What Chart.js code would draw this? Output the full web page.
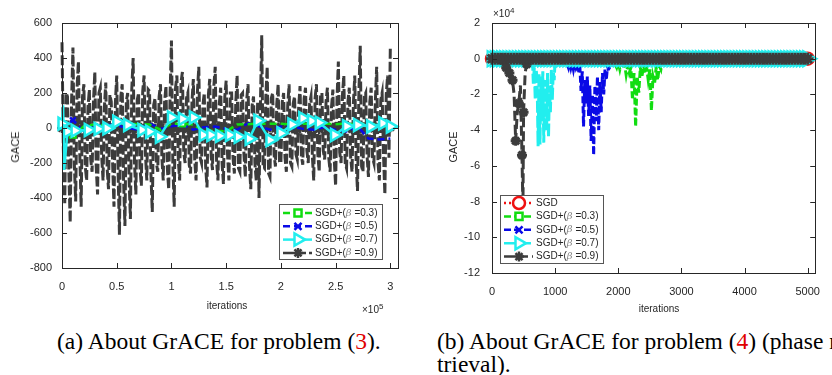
<!DOCTYPE html>
<html>
<head>
<meta charset="utf-8">
<script src="https://cdn.jsdelivr.net/npm/chart.js@4/dist/chart.umd.min.js"></script>
<style>
  body { margin:0; width:832px; height:375px; background:#fff; position:relative; overflow:hidden;
         font-family:"Liberation Sans", Arial, sans-serif; }
  canvas { position:absolute; top:0; }
  #cA { left:0; }
  #cB { left:420px; }
  .lbl { position:absolute; color:#262626; font-size:10px; white-space:nowrap; transform:translate(-50%,-50%); }
  .ylab { font-size:11px; transform:translate(-50%,-50%) rotate(-90deg); }
  .mult { position:absolute; color:#262626; font-size:10px; white-space:nowrap; }
  .mult sup { font-size:8px; }
  .cap { position:absolute; font-family:"Liberation Serif","Times New Roman",serif; font-size:23.5px;
         color:#000; white-space:nowrap; line-height:23px; }
  .ref { color:#e00000; }
</style>
</head>
<body>
<canvas id="cA" width="410" height="320"></canvas>
<canvas id="cB" width="412" height="320"></canvas>

<div class="lbl ylab" style="left:15px;top:147px">GACE</div>
<div class="lbl" style="left:227px;top:305px">iterations</div>
<div class="mult" style="left:362px;top:302px">×10<sup>5</sup></div>

<div class="lbl ylab" style="left:453px;top:147px">GACE</div>
<div class="lbl" style="left:659px;top:308px">iterations</div>
<div class="mult" style="left:493px;top:6px">×10<sup>4</sup></div>

<div class="cap" style="left:57px;top:330px">(a) About GrACE for problem (<span class="ref">3</span>).</div>
<div class="cap" style="left:437px;top:330px">(b) About GrACE for problem (<span class="ref">4</span>) (phase re-<br>trieval).</div>

<script>
// ---------- panel (a): x in units of 1e5 iterations ----------
const stepA = 0.0125;   // spacing of the beta=0.9 trace
const gace09A = [
  490,-120, -430,200, 180,-250, -540,150, 460,-200, -420,230, 380,-150, -450,180, 250,-220, -300,120,
  220,-180, -250,150, 320,-220, -380,200, 230,-160, -300,120, 260,-230, -350,190, 150,-200, -450,140,
  300,-250, -610,180, 250,-300, -560,150, 200,-280, -520,220, 400,-200, -380,160, 200,-230, -330,210,
  300,-150, -300,220, 210,-260, -480,130, 170,-200, -250,180, 250,-170, -300,150, 240,-230, -350,190,
  500,-200, -450,230, 300,-180, -300,260, 320,-140, -200,170, 200,-210, -260,150, 280,-180, -300,210,
  350,-170, -200,130, 200,-220, -340,190, 280,-160, -240,240, 350,-190, -300,140, 230,-200, -320,180,
  270,-150, -300,200, 200,-170, -260,140, 300,-230, -250,190, 200,-150, -280,160, 250,-210, -350,130,
  180,-200, -300,150, -400,120, 530,-220, -230,180, 350,-260, -280,170, 200,-150, -220,140, 250,-190,
  -200,150, 200,-170, -250,130, 250,-200, -220,140, 180,-150, -180,120, 240,-160, -210,170, 230,-130,
  -200,140, 180,-160, -300,170, 250,-150, -250,190, 200,-130, -180,150, 230,-170, -250,120, 220,-180,
  -330,160, 380,-140, -200,190, 300,-200, -230,150, 230,-170, -250,140, 300,-190, -360,200, 470,-220,
  -250,180, 200,-160, -280,150, 230,-170, -200,140, 350,-200, -300,160, 200,-150, -380,190, 300,-170,
  470
];
// asterisk markers of the beta=0.9 trace (every 0.05)
const starStepA = 0.05;
const star09A = [
  0, -8, 6, -4, 8, -6, 4, -8, 6, -4,
  8, -6, 4, -8, 6, -4, 8, -6, 4, -8,
  6, -4, 8, -6, 4, -8, 6, -4, 8, -6,
  4, -8, 6, -4, 8, -6, 4, -8, 6, -4,
  8, -6, 4, -8, 6, -4, 8, -6, 4, -8,
  6, -4, 8, -6, 4, -8, 6, -4, 8, -6, 4
];
const tenthsA = [0,0.1,0.2,0.3,0.4,0.5,0.6,0.7,0.8,0.9,1.0,1.1,1.2,1.3,1.4,1.5,1.6,1.7,1.8,1.9,
                 2.0,2.1,2.2,2.3,2.4,2.5,2.6,2.7,2.8,2.9,3.0];
const gace03A = [0,-40,10,20,15,20,25,22,20,-10,25,25,20,-20,-15,-20,20,22,25,25,25,20,25,25,25,22,25,20,25,18,5];
const gace05A = [0,45,-20,10,20,15,0,-10,27,-5,10,20,-10,5,8,-5,-10,27,10,-10,8,10,-5,-10,5,-10,-20,10,-60,-65,-60];
const cyanXA = [0,0.01,0.02,0.05,0.12,0.24,0.33,0.41,0.50,0.60,0.73,0.80,0.89,1.00,1.10,1.20,1.29,1.36,
                1.44,1.53,1.61,1.71,1.79,1.90,2.00,2.10,2.20,2.28,2.35,2.49,2.60,2.70,2.82,2.93,3.00];
const gace07A = [25,130,-240,-20,-15,-11,-5,-2,36,17,-11,-21,-50,60,52,60,-40,-40,
                 -45,-40,-50,-62,42,-69,-30,20,56,40,30,-40,10,17,8,27,8];
const xTicksA = [0,0.5,1,1.5,2,2.5,3];
const yTicksA = [-800,-600,-400,-200,0,200,400,600];

// ---------- panel (b): x in iterations, y in units of 1e4 ----------
// level of every trace away from its dip (sampled every 50 iterations)
const stepB = 50;
const flatB = [
  0,0,0,0,0,0,0,0,0,0, 0,0,0,0,0,0,0,0,0,0, 0,0,0,0,0,0,0,0,0,0, 0,0,0,0,0,0,0,0,0,0,
  0,0,0,0,0,0,0,0,0,0, 0,0,0,0,0,0,0,0,0,0, 0,0,0,0,0,0,0,0,0,0, 0,0,0,0,0,0,0,0,0,0,
  0,0,0,0,0,0,0,0,0,0, 0,0,0,0,0,0,0,0,0,0, 0
];
// dips of the SGD+ traces
const dip09X = [150,175,200,225,250,275,300,325,350,375,400,425,450,475,490,500,525,550,575,600];
const dip09Y = [0,-0.1,-0.3,-0.5,-0.8,-0.8,-0.9,-1.2,-2.0,-4.6,-3.0,-2.5,-1.5,-5.4,-8.5,-3.0,-0.8,-0.3,-0.1,0];
const dip07X = [640,655,670,685,700,715,730,745,760,775,790,805,820,835,850,865,880,895,910,925,940,955,970,985,1000];
const dip07Y = [0,-1.4,-0.5,-2.3,-0.6,-1.2,-4.9,-0.8,-4.8,-1.0,-3.5,-0.7,-4.7,-1.2,-2.5,-4.0,-0.8,-4.4,-1.5,-3.0,
                -0.6,-2.3,-0.7,-1.2,0];
const dip05X = [1150,1170,1190,1210,1230,1250,1270,1290,1310,1330,1350,1370,1390,1410,1430,1450,1470,1490,1510,1530,
                1550,1570,1590,1610,1630,1650,1670,1690,1710,1730,1750,1770,1790,1810,1830,1850,1870,1890,1910];
const dip05Y = [-0.4,0,-0.3,-0.5,-0.1,-0.5,-0.2,-0.6,-0.2,-0.5,-0.3,-0.8,-0.3,-1.8,-0.7,-3.8,-1.2,-2.5,-1.0,-3.2,
                -1.5,-4.6,-2.0,-5.4,-1.5,-3.5,-1.0,-4.0,-1.3,-3.0,-0.8,-2.0,-0.6,-1.2,-0.4,-0.7,-0.3,-0.5,0];
const dip03X = [1950,1975,2000,2025,2050,2075,2100,2125,2150,2175,2200,2225,2250,2275,2300,2325,2350,2375,2400,2425,
                2450,2475,2500,2525,2550,2575,2600,2625,2650,2675,2700];
const dip03Y = [-0.3,-0.5,-0.2,-0.6,-0.2,-0.5,-0.3,-0.9,-0.4,-0.8,-0.5,-2.3,-0.8,-3.8,-1.0,-1.9,-0.5,-1.0,-0.4,-0.8,
                -0.5,-1.2,-0.6,-2.9,-1.0,-1.4,-0.5,-1.2,-0.4,-0.6,0];
const xTicksB = [0,1000,2000,3000,4000,5000];
const yTicksB = [-12,-10,-8,-6,-4,-2,0,2];

// ---------- helpers ----------
const INK = '#262626';
const RED = '#ee1111', GREEN = '#11dd11', BLUE = '#0a0ae6', CYAN = '#22eeee', DARK = '#3c3c3c';

const pts = (xs, ys) => ys.map((y, i) => ({ x: xs[i], y }));
const stepped = (step, ys) => ys.map((y, i) => ({ x: +(i * step).toFixed(4), y }));

Chart.defaults.font.family = '"Liberation Sans", Arial, sans-serif';
Chart.defaults.font.size = 11;
Chart.defaults.color = INK;

const framePlugin = {
  id: 'frame',
  afterDatasetsDraw(chart) {
    const { ctx, chartArea: a, scales } = chart;
    ctx.save();
    ctx.strokeStyle = INK;
    ctx.lineWidth = 1;
    ctx.setLineDash([]);
    ctx.strokeRect(Math.round(a.left) + 0.5, Math.round(a.top) + 0.5,
                   Math.round(a.right - a.left), Math.round(a.bottom - a.top));
    ctx.beginPath();
    scales.x.ticks.forEach(t => {
      const p = Math.round(scales.x.getPixelForValue(t.value)) + 0.5;
      ctx.moveTo(p, a.bottom); ctx.lineTo(p, a.bottom - 5);
      ctx.moveTo(p, a.top); ctx.lineTo(p, a.top + 5);
    });
    scales.y.ticks.forEach(t => {
      const p = Math.round(scales.y.getPixelForValue(t.value)) + 0.5;
      ctx.moveTo(a.left, p); ctx.lineTo(a.left + 5, p);
      ctx.moveTo(a.right, p); ctx.lineTo(a.right - 5, p);
    });
    ctx.stroke();
    ctx.restore();
  }
};

const legendPlugin = {
  id: 'boxLegend',
  afterDraw(chart, args, opts) {
    const { ctx } = chart;
    ctx.save();
    ctx.fillStyle = '#fff';
    ctx.fillRect(opts.x, opts.y, opts.w, opts.h);
    ctx.strokeStyle = '#555';
    ctx.lineWidth = 1;
    ctx.strokeRect(opts.x + 0.5, opts.y + 0.5, opts.w, opts.h);
    opts.rows.forEach((di, r) => {
      const ds = chart.data.datasets[di];
      const y = opts.y0 + r * opts.dy;
      ctx.strokeStyle = ds.borderColor;
      ctx.lineWidth = 2.5;
      ctx.setLineDash(ds.borderDash || []);
      ctx.beginPath();
      ctx.moveTo(opts.x + 4, y); ctx.lineTo(opts.x + 33, y);
      ctx.stroke();
      ctx.setLineDash([]);
      if (Chart.helpers && Chart.helpers.drawPoint) {
        ctx.fillStyle = '#fff';
        ctx.strokeStyle = ds.borderColor;
        ctx.lineWidth = 2.5;
        Chart.helpers.drawPoint(ctx, { pointStyle: ds.mk, radius: ds.mkR, rotation: ds.mkRot || 0, borderWidth: 2.5 },
                                opts.x + 19, y);
      }
      // text: SGD+(β =0.3)
      let tx = opts.x + 36;
      ctx.textBaseline = 'middle';
      ctx.fillStyle = INK;
      ctx.font = '10px "Liberation Sans", Arial, sans-serif';
      const parts = ds.legendParts;
      ctx.fillText(parts[0], tx, y);
      tx += ctx.measureText(parts[0]).width;
      if (parts.length > 1) {
        ctx.font = 'italic 10px "DejaVu Serif", serif';
        ctx.fillStyle = '#888';
        ctx.fillText('\u03B2', tx, y);
        tx += ctx.measureText('\u03B2').width;
        ctx.font = '10px "Liberation Sans", Arial, sans-serif';
        ctx.fillStyle = INK;
        ctx.fillText(parts[1], tx, y);
      }
    });
    ctx.restore();
  }
};

function axes(xMin, xMax, yMin, yMax, xTicks, yTicks, yW, xH, xPad, yPad) {
  return {
    x: {
      type: 'linear', min: xMin, max: xMax,
      grid: { display: false, drawTicks: false }, border: { display: false },
      afterBuildTicks: s => { s.ticks = xTicks.map(v => ({ value: v })); },
      afterFit: s => { s.height = xH; },
      ticks: { autoSkip: false, maxRotation: 0, padding: xPad, color: INK, callback: v => String(v) }
    },
    y: {
      type: 'linear', min: yMin, max: yMax,
      grid: { display: false, drawTicks: false }, border: { display: false },
      afterBuildTicks: s => { s.ticks = yTicks.map(v => ({ value: v })); },
      afterFit: s => { s.width = yW; },
      ticks: { autoSkip: false, padding: yPad, color: INK, callback: v => String(v) }
    }
  };
}

// ---------- chart (a) ----------
new Chart(document.getElementById('cA'), {
  type: 'line',
  data: {
    datasets: [
      { data: pts(cyanXA, gace07A), borderColor: CYAN, borderWidth: 2.5, borderDash: [],
        pointStyle: 'triangle', pointRotation: 90, pointBackgroundColor: '#fff', pointBorderColor: CYAN,
        pointBorderWidth: 2.5, pointRadius: c => Math.abs(c.parsed.y) > 100 ? 0 : 7, order: 0,
        mk: 'triangle', mkR: 7, mkRot: 90, legendParts: ['SGD+(', ' =0.7)'] },
      { data: pts(tenthsA, gace03A), borderColor: GREEN, borderWidth: 2.5, borderDash: [7, 4],
        pointStyle: 'rect', pointBackgroundColor: '#fff', pointBorderColor: GREEN, pointBorderWidth: 2,
        pointRadius: c => c.dataIndex % 10 === 1 ? 4 : 0, order: 1,
        mk: 'rect', mkR: 5, legendParts: ['SGD+(', ' =0.3)'] },
      { data: pts(tenthsA, gace05A), borderColor: BLUE, borderWidth: 2.5, borderDash: [7, 4],
        pointStyle: 'crossRot', pointBorderColor: BLUE, pointBorderWidth: 2.5,
        pointRadius: c => c.dataIndex % 10 === 1 ? 4 : 0, order: 2,
        mk: 'crossRot', mkR: 5, legendParts: ['SGD+(', ' =0.5)'] },
      { data: stepped(starStepA, star09A), showLine: false, borderColor: DARK,
        pointStyle: 'star', pointBorderColor: DARK, pointBorderWidth: 2.5, pointRadius: 5, order: 3 },
      { data: stepped(stepA, gace09A), borderColor: DARK, borderWidth: 3, borderDash: [10, 3],
        pointRadius: 0, order: 4, mk: 'star', mkR: 5, legendParts: ['SGD+(', ' =0.9)'] }
    ]
  },
  options: {
    responsive: false, animation: false,
    layout: { autoPadding: false, padding: { left: 0, right: 12, top: 23, bottom: 0 } },
    elements: { line: { tension: 0, fill: false } },
    datasets: { line: { clip: false } },
    scales: axes(0, 3.07, -800, 600, xTicksA, yTicksA, 62, 52, 12, 10),
    plugins: {
      legend: { display: false }, tooltip: { enabled: false },
      boxLegend: { x: 279, y: 204, w: 103, h: 55, y0: 213, dy: 13.3, rows: [1, 2, 0, 4] }
    }
  },
  plugins: [framePlugin, legendPlugin]
});

// ---------- chart (b) ----------
const bandB = stepped(stepB, flatB);
new Chart(document.getElementById('cB'), {
  type: 'line',
  data: {
    datasets: [
      // 0: beta 0.9 band
      { data: bandB, borderColor: DARK, borderWidth: 3, borderDash: [10, 4],
        pointStyle: 'star', pointBorderColor: DARK, pointBorderWidth: 3, pointRadius: 6, order: 0,
        mk: 'star', mkR: 5, legendParts: ['SGD+(', ' =0.9)'] },
      // 1: beta 0.9 dip
      { data: pts(dip09X, dip09Y), borderColor: DARK, borderWidth: 3, borderDash: [10, 4],
        pointStyle: 'star', pointBorderColor: DARK, pointBorderWidth: 3,
        pointRadius: c => (c.dataIndex % 2 === 1 && c.parsed.y > -8) ? 5 : 0, order: 1 },
      // 2: beta 0.7 band
      { data: bandB, borderColor: CYAN, borderWidth: 3, borderDash: [12, 3],
        pointStyle: 'triangle', pointRotation: 90, pointBackgroundColor: '#fff', pointBorderColor: CYAN,
        pointBorderWidth: 2, pointRadius: 9, order: 2,
        mk: 'triangle', mkR: 7, mkRot: 90, legendParts: ['SGD+(', ' =0.7)'] },
      // 3: beta 0.7 dip
      { data: pts(dip07X, dip07Y), borderColor: CYAN, borderWidth: 3, borderDash: [12, 3],
        pointRadius: 0, order: 3 },
      // 4: beta 0.5 band
      { data: bandB, borderColor: BLUE, borderWidth: 3, borderDash: [7, 3],
        pointStyle: 'crossRot', pointBorderColor: BLUE, pointBorderWidth: 2.5, pointRadius: 4, order: 4,
        mk: 'crossRot', mkR: 5, legendParts: ['SGD+(', ' =0.5)'] },
      // 5: beta 0.5 dip
      { data: pts(dip05X, dip05Y), borderColor: BLUE, borderWidth: 3, borderDash: [7, 3],
        pointRadius: 0, order: 5 },
      // 6: beta 0.3 band
      { data: bandB, borderColor: GREEN, borderWidth: 3, borderDash: [7, 3],
        pointStyle: 'rect', pointBackgroundColor: '#fff', pointBorderColor: GREEN, pointBorderWidth: 2,
        pointRadius: 4, order: 6, mk: 'rect', mkR: 5, legendParts: ['SGD+(', ' =0.3)'] },
      // 7: beta 0.3 dip
      { data: pts(dip03X, dip03Y), borderColor: GREEN, borderWidth: 3, borderDash: [7, 3],
        pointRadius: 0, order: 7 },
      // 8: SGD
      { data: bandB, borderColor: RED, borderWidth: 2.5, borderDash: [2, 3],
        pointStyle: 'circle', pointBackgroundColor: '#fff', pointBorderColor: RED, pointBorderWidth: 2.5,
        pointRadius: 6, order: 8, mk: 'circle', mkR: 6, legendParts: ['SGD'] }
    ]
  },
  options: {
    responsive: false, animation: false,
    layout: { autoPadding: false, padding: { left: 0, right: 5, top: 23, bottom: 0 } },
    elements: { line: { tension: 0, fill: false } },
    datasets: { line: { clip: false } },
    scales: axes(0, 5120, -12, 2, xTicksB, yTicksB, 72, 47, 12, 12),
    plugins: {
      legend: { display: false }, tooltip: { enabled: false },
      boxLegend: { x: 80, y: 195, w: 103, h: 68, y0: 203, dy: 13.4, rows: [8, 6, 4, 2, 0] }
    }
  },
  plugins: [framePlugin, legendPlugin]
});
</script>
</body>
</html>
